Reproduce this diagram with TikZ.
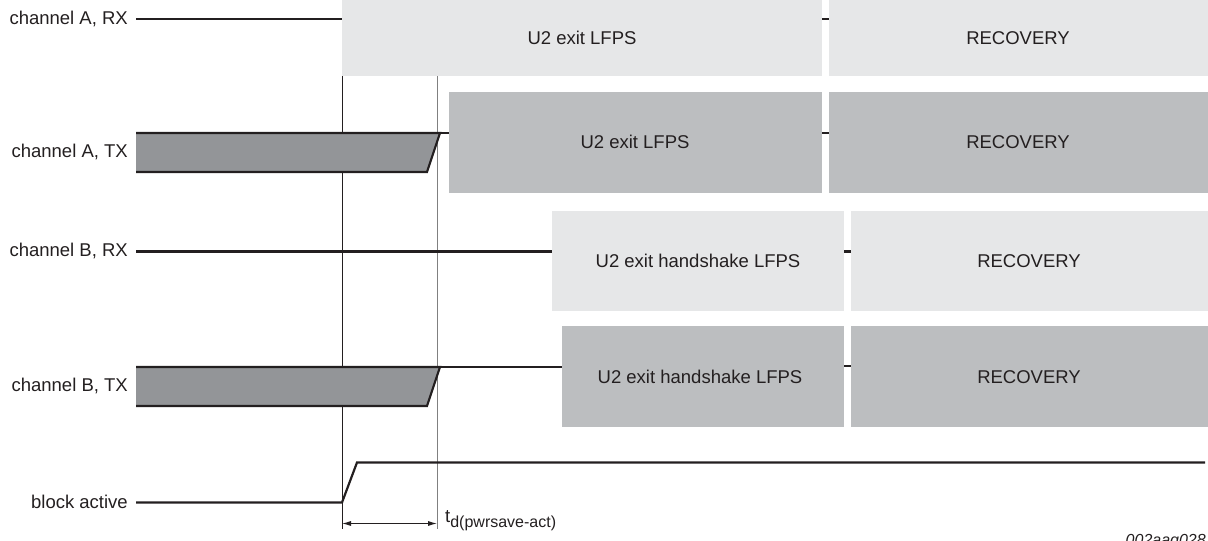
\documentclass[tikz,border=0pt]{standalone}
\usepackage{fontspec}
\setmainfont{Liberation Sans}
\usetikzlibrary{arrows.meta}
\definecolor{rxfill}{HTML}{E6E7E8}
\definecolor{txfill}{HTML}{BCBEC0}
\definecolor{wavefill}{HTML}{939598}
\definecolor{markgray}{HTML}{808080}
\definecolor{ink}{HTML}{231F20}
\begin{document}
\begin{tikzpicture}[x=1pt,y=-1pt,
  lbl/.style={anchor=east,inner sep=0pt,font=\fontsize{18.5}{22}\selectfont,text=ink},
  boxtxt/.style={font=\fontsize{18.5}{22}\selectfont,text=ink},
  rxbox/.style={fill=rxfill,draw=none},
  txbox/.style={fill=txfill,draw=none},
  sig/.style={draw=ink,line width=2.2pt,line join=miter},
  markline/.style={draw=ink,line width=0.9pt},
  dim/.style={draw=ink,line width=0.9pt,{Latex[length=9pt,width=5pt]}-{Latex[length=9pt,width=5pt]}}]
\useasboundingbox (0,0) rectangle (1208,541);
% vertical markers
\coordinate (m1t) at (342,76);
\coordinate (m1b) at (342,529);
\coordinate (m2t) at (437,76);
\coordinate (m2b) at (437,529);
\draw[markline] (m1t) -- (m1b);
\draw[draw=markgray,line width=1pt] (m2t) -- (m2b);
% channel A RX
\fill[rxbox] (342,0) rectangle (822,76);
\fill[rxbox] (829,0) rectangle (1208,76);
\node[boxtxt] (arx) at (582,38) {U2 exit LFPS};
\node[boxtxt] (arxr) at (1018,38) {RECOVERY};
\node[lbl] (larx) at (128,19) {channel A, RX};
\draw[sig] (136,19) -- (342,19);
\draw[sig] (822,19) -- (829,19);
% channel A TX
\fill[txbox] (449,92) rectangle (822,193);
\fill[txbox] (829,92) rectangle (1208,193);
\node[boxtxt] (atx) at (635,142) {U2 exit LFPS};
\node[boxtxt] (atxr) at (1018,142) {RECOVERY};
\node[lbl] (latx) at (128,152) {channel A, TX};
\draw[sig,fill=wavefill] (136,133) -- (440,133) -- (427,172) -- (136,172);
\draw[sig] (440,133) -- (449,133);
\draw[sig] (822,133) -- (829,133);
% channel B RX
\fill[rxbox] (552,211) rectangle (844,311);
\fill[rxbox] (851,211) rectangle (1208,311);
\node[boxtxt] (brx) at (698,261) {U2 exit handshake LFPS};
\node[boxtxt] (brxr) at (1029,261) {RECOVERY};
\node[lbl] (lbrx) at (128,251) {channel B, RX};
\draw[sig] (136,251.5) -- (552,251.5);
\draw[sig] (844,251.5) -- (851,251.5);
% channel B TX
\fill[txbox] (562,326) rectangle (844,427);
\fill[txbox] (851,326) rectangle (1208,427);
\node[boxtxt] (btx) at (700,377) {U2 exit handshake LFPS};
\node[boxtxt] (btxr) at (1029,377) {RECOVERY};
\node[lbl] (lbtx) at (128,386) {channel B, TX};
\draw[sig,fill=wavefill] (136,367) -- (440,367) -- (427,406) -- (136,406);
\draw[sig] (440,367) -- (562,367);
\draw[sig] (844,366) -- (851,366);
% block active
\node[lbl] (lba) at (128,502) {block active};
\draw[sig] (136,502.5) -- (342,502.5) -- (357,462.5) -- (1205,462.5);
% dimension
\coordinate (d1) at (342,523.5);
\coordinate (d2) at (437,523.5);
\draw[dim] (d1) -- (d2);
\node[anchor=base west,inner sep=0pt,font=\fontsize{18.5}{22}\selectfont,text=ink] (tlab) at (445,522) {t\textsubscript{\fontsize{16}{19}\selectfont d(pwrsave-act)}};
\node[anchor=base east,inner sep=0pt,font=\fontsize{16}{19}\selectfont\itshape,text=ink] (code) at (1206,545) {002aag028};
\end{tikzpicture}
\end{document}
